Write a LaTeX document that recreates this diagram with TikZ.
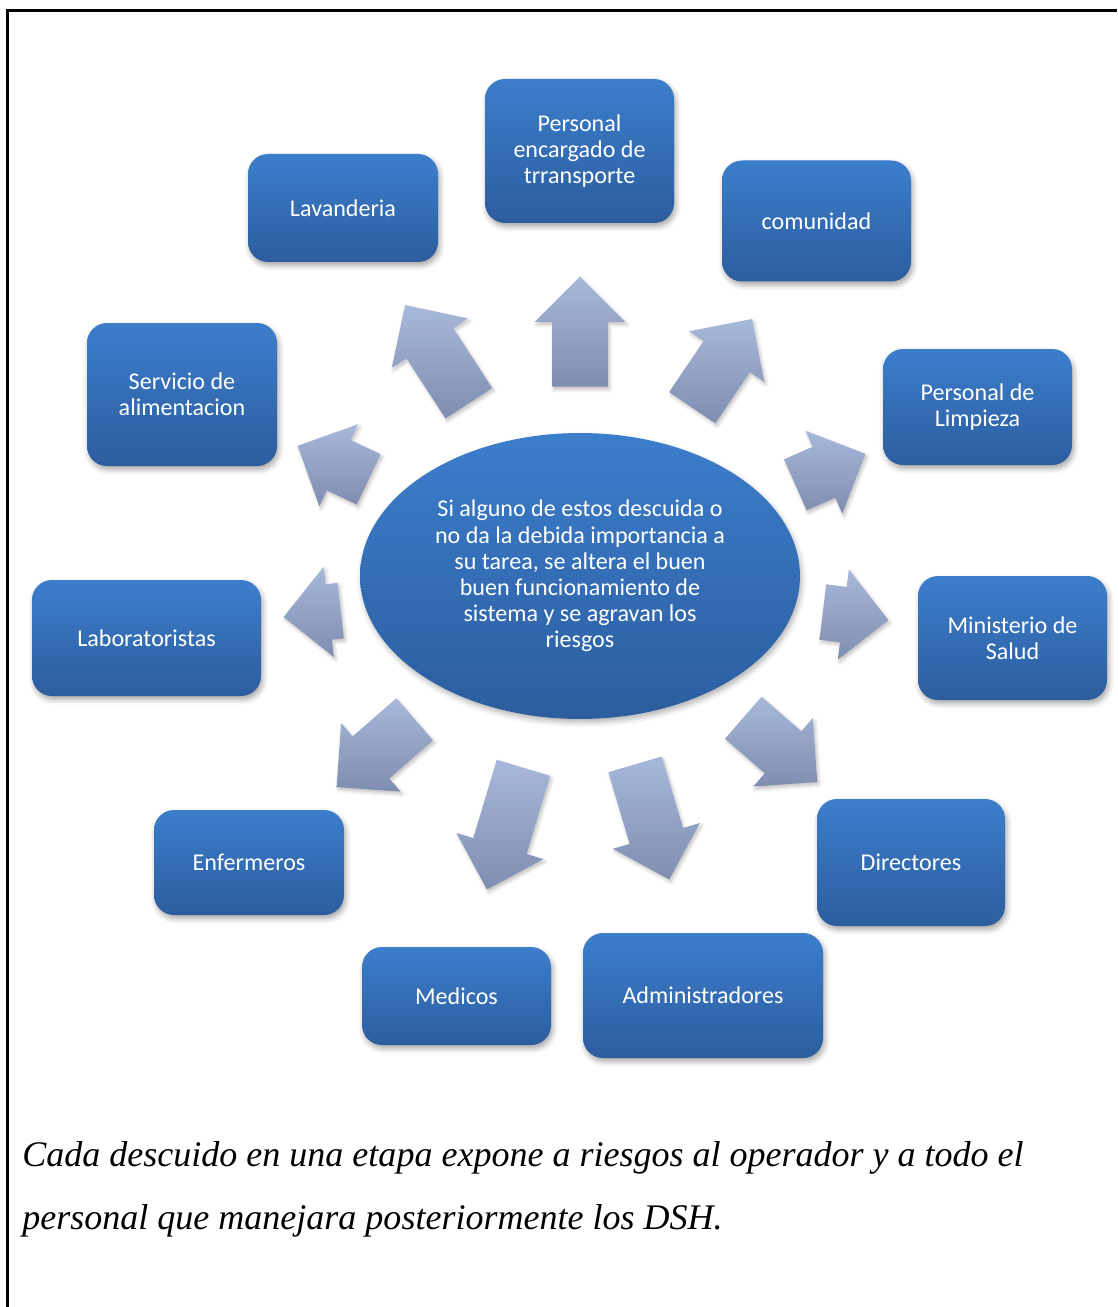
\documentclass[tikz,border=0pt]{standalone}
\usepackage{fontspec}
\newfontfamily\boxfont{Carlito}
\newfontfamily\notefont{Liberation Serif}
\usetikzlibrary{shapes.geometric,shapes.arrows,shadows,shadows.blur}
\definecolor{boxtop}{RGB}{60,126,204}
\definecolor{boxbottom}{RGB}{44,93,158}
\definecolor{arrtop}{RGB}{168,184,218}
\definecolor{arrbottom}{RGB}{127,142,176}
\tikzstyle{staffbox}=[rectangle,rounded corners=0.4cm,draw=none,top color=boxtop,bottom color=boxbottom,text=white,align=center,font=\boxfont\fontsize{13.7}{14.9}\selectfont,blur shadow={shadow xshift=1pt,shadow yshift=-2pt,shadow blur radius=3pt,shadow opacity=35}]
\tikzstyle{core}=[ellipse,draw=none,top color=boxtop,bottom color=boxbottom,text=white,align=center,inner sep=0pt,minimum width=8.8cm,minimum height=5.72cm,font=\boxfont\fontsize{13.7}{14.9}\selectfont,blur shadow={shadow xshift=1pt,shadow yshift=-2pt,shadow blur radius=3pt,shadow opacity=30}]
\tikzstyle{radarrow}=[single arrow,single arrow head extend=0.35cm,inner xsep=0pt,inner ysep=0.55cm,draw=none,top color=arrtop,bottom color=arrbottom,anchor=tail,blur shadow={shadow xshift=1pt,shadow yshift=-1.5pt,shadow blur radius=2pt,shadow opacity=25}]
\tikzstyle{note}=[anchor=base west,align=left,inner sep=0pt,font=\notefont\itshape\fontsize{20.5}{35.3}\selectfont]

\begin{document}
\begin{tikzpicture}[x=0.02cm,y=-0.02cm]

    \def\u{0.02cm}
    \useasboundingbox (0,0) rectangle (1117,1307);
    \draw[line width=1.6pt] (7.5,1307) |- (1117,10.5);

% centre
    \node[core] (core) at (580,576) {Si alguno de estos descuida o\\no da la debida importancia a\\su tarea, se altera el buen\\buen funcionamiento de\\sistema y se agravan los\\riesgos};

% arrows
    \foreach \pos/\name/\ang/\len in {{(580,387)/a1/90/110}, {(469,403.5)/a2/123/117}, {(692,408)/a3/56/107}, {(369,479.5)/a4/154.7/78.5}, {(795,485)/a5/23.9/76.6}, {(341,610.5)/a6/186.5/57.4}, {(822.5,612)/a7/-7/66}, {(415,719)/a8/221/103.5}, {(743,717.5)/a9/-41/98}, {(523.5,767.5)/a10/253.3/127}, {(635,764)/a11/286.5/120}}
        \node[radarrow,rotate=\ang,minimum height=\len*\u] (\name) at \pos {};

% boxes
    \foreach \pos/\name/\w/\h/\label in {{(579.5,151)/trans/189/144/{Personal\\encargado de\\trransporte}}, {(343,208)/lav/190/108/{Lavanderia}}, {(816.5,221)/com/189/121/{comunidad}}, {(182,394.5)/serv/190/143/{Servicio de\\alimentacion}}, {(977.5,407)/limp/189/116/{Personal de\\Limpieza}}, {(146.5,638)/lab/229/116/{Laboratoristas}}, {(1012.5,638)/mins/189/124/{Ministerio de\\Salud}}, {(249,862.5)/enf/190/105/{Enfermeros}}, {(911,862.5)/dir/188/127/{Directores}}, {(456.5,996)/med/189/98/{Medicos}}, {(703,995.5)/adm/240/125/{Administradores}}}
        \node[staffbox,minimum width=\w*\u,minimum height=\h*\u] (\name) at \pos {\label};

% note
    \node[note] (note) at (22,1229) {Cada descuido en una etapa expone a riesgos al operador y a todo el\\personal que manejara posteriormente los DSH.};

\end{tikzpicture}
\end{document}
